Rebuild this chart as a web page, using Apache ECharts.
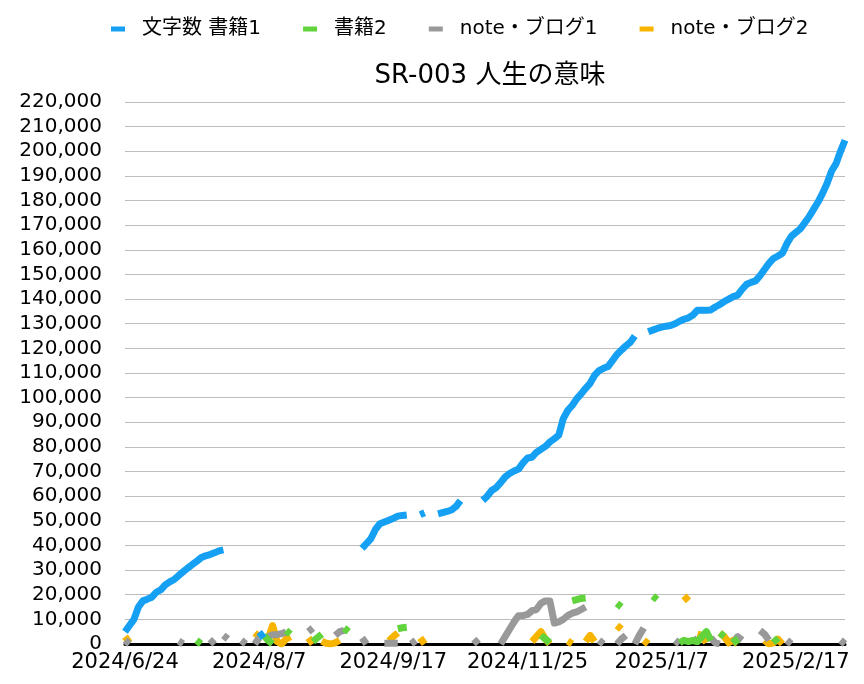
<!DOCTYPE html>
<html>
<head>
<meta charset="utf-8">
<script src="https://cdn.jsdelivr.net/npm/echarts/dist/echarts.min.js"></script>
<style>
html,body{margin:0;padding:0;background:#fff;}
#chart{width:864px;height:684px;}
</style>
</head>
<body>
<div id="chart"></div>
<script>
const _ = null;

const categories = [
'2024/6/24','2024/6/25','2024/6/26','2024/6/27','2024/6/28','2024/6/30','2024/7/1','2024/7/2','2024/7/3','2024/7/5',
'2024/7/6','2024/7/8','2024/7/9','2024/7/10','2024/7/12','2024/7/13','2024/7/15','2024/7/16','2024/7/18','2024/7/19',
'2024/7/21','2024/7/22','2024/7/24','2024/7/25','2024/7/27','2024/7/29','2024/7/30','2024/8/1','2024/8/3','2024/8/5',
'2024/8/7','2024/8/8','2024/8/9','2024/8/11','2024/8/12','2024/8/13','2024/8/15','2024/8/16','2024/8/18','2024/8/19',
'2024/8/20','2024/8/22','2024/8/23','2024/8/25','2024/8/26','2024/8/27','2024/8/29','2024/8/30','2024/9/1','2024/9/2',
'2024/9/3','2024/9/5','2024/9/6','2024/9/8','2024/9/9','2024/9/10','2024/9/12','2024/9/13','2024/9/14','2024/9/16',
'2024/9/17','2024/9/19','2024/9/22','2024/9/24','2024/9/26','2024/9/29','2024/10/1','2024/10/3','2024/10/6','2024/10/8',
'2024/10/10','2024/10/13','2024/10/15','2024/10/17','2024/10/20','2024/10/22','2024/10/24','2024/10/27','2024/10/29','2024/10/31',
'2024/11/3','2024/11/5','2024/11/7','2024/11/10','2024/11/12','2024/11/14','2024/11/17','2024/11/19','2024/11/21','2024/11/23',
'2024/11/25','2024/11/26','2024/11/28','2024/11/29','2024/12/1','2024/12/2','2024/12/4','2024/12/5','2024/12/7','2024/12/8',
'2024/12/10','2024/12/11','2024/12/13','2024/12/14','2024/12/16','2024/12/17','2024/12/19','2024/12/20','2024/12/22','2024/12/23',
'2024/12/25','2024/12/26','2024/12/28','2024/12/29','2024/12/31','2025/1/1','2025/1/2','2025/1/3','2025/1/4','2025/1/6',
'2025/1/7','2025/1/8','2025/1/9','2025/1/11','2025/1/12','2025/1/13','2025/1/15','2025/1/16','2025/1/18','2025/1/19',
'2025/1/20','2025/1/22','2025/1/23','2025/1/25','2025/1/26','2025/1/27','2025/1/29','2025/1/30','2025/2/1','2025/2/2',
'2025/2/3','2025/2/5','2025/2/6','2025/2/8','2025/2/9','2025/2/10','2025/2/12','2025/2/13','2025/2/14','2025/2/16',
'2025/2/17','2025/2/18','2025/2/19','2025/2/20','2025/2/21','2025/2/22','2025/2/23','2025/2/24','2025/2/25','2025/2/26',
'2025/2/27','2025/2/28'
];

const seriesNames = ['文字数 書籍1', '書籍2', 'note・ブログ1', 'note・ブログ2'];

const book1 = [
/*0*/ 5000,7500,10000,15000,17500,18200,19000,21000,22000,24000,
/*10*/ 25200,26200,27800,29300,30800,32200,33500,35000,35800,36300,
/*20*/ 37000,37800,38200,_,_,_,_,_,_,_,
/*30*/ 4800,2500,_,_,_,_,_,_,_,_,
/*40*/ _,_,_,_,_,_,_,_,_,_,
/*50*/ _,_,_,38800,40800,42800,46500,48800,49500,50200,
/*60*/ 51000,51900,52200,52400,_,_,52500,53300,_,_,
/*70*/ 52800,53300,53800,54400,55800,58200,_,_,_,_,
/*80*/ 58300,60000,62300,63500,65500,67800,69200,70200,71000,73500,
/*90*/ 75500,75800,77800,79000,80200,82000,83300,84800,91500,94800,
/*100*/ 96800,99500,101500,103800,105800,109000,111000,111900,112600,115000,
/*110*/ 117500,119300,121000,122500,125000,_,_,126700,127400,128100,
/*120*/ 128600,129000,129300,130000,131000,131800,132400,133500,135500,135500,
/*130*/ 135500,135600,136800,137800,139000,140000,141000,141600,144000,146000,
/*140*/ 146800,147400,149500,152000,154500,156500,157500,158600,162500,165500,
/*150*/ 167000,168500,171000,173500,176500,179500,183000,187000,192000,195000,
/*160*/ 200000,204500
];

const book2 = [
/*0*/ _,_,_,_,_,_,_,_,_,_,
/*10*/ _,_,_,_,_,_,1500,0,_,_,
/*20*/ _,_,_,_,_,_,_,_,_,_,
/*30*/ _,3500,1500,0,_,_,5500,4000,_,_,
/*40*/ _,_,1000,2500,4000,_,_,_,_,6500,
/*50*/ 5000,_,_,_,_,_,_,_,_,_,
/*60*/ _,6200,6600,6800,_,_,_,_,_,_,
/*70*/ _,_,_,_,_,_,_,_,_,_,
/*80*/ _,_,_,_,_,_,_,_,_,_,
/*90*/ _,_,_,3500,2000,500,_,_,_,_,
/*100*/ 17500,18000,18500,18700,_,_,_,_,_,_,
/*110*/ 16500,15000,_,_,_,_,_,_,19500,18000,
/*120*/ _,_,_,_,500,1500,1000,1500,1000,3000,
/*130*/ 5000,1500,_,4500,3000,_,2500,0,_,_,
/*140*/ _,_,_,_,_,2500,500,_,_,_,
/*150*/ _,_,_,_,_,_,_,_,_,_,
/*160*/ _,_
];

const note1 = [
/*0*/ 1500,0,_,_,_,_,_,_,_,_,
/*10*/ _,_,1200,0,_,_,_,_,_,0,
/*20*/ 1800,_,3500,2000,_,_,1500,0,_,0,
/*30*/ 2500,_,3000,3800,3800,4200,4800,_,_,_,
/*40*/ _,5000,6500,_,_,_,_,3500,5000,5500,
/*50*/ _,_,_,2500,0,_,_,_,300,300,
/*60*/ 300,300,_,_,0,1500,_,_,_,_,
/*70*/ _,_,_,_,_,_,_,_,2000,0,
/*80*/ _,_,_,_,0,3000,6000,9000,11500,11500,
/*90*/ 12000,13500,14000,16500,17500,17500,8500,9000,10000,11500,
/*100*/ 12500,13000,14000,15000,_,_,1500,0,_,_,
/*110*/ 0,2000,3500,_,0,3500,6500,_,_,_,
/*120*/ _,_,_,1500,0,_,_,2500,500,_,
/*130*/ _,2500,500,0,_,_,500,3000,1500,_,
/*140*/ _,_,5500,4000,1500,_,_,_,1500,0,
/*150*/ _,_,_,_,_,_,_,_,_,_,
/*160*/ 1500,0
];

const note2 = [
/*0*/ 3000,500,_,_,_,_,_,_,_,_,
/*10*/ _,_,_,_,_,_,_,_,_,_,
/*20*/ _,_,_,_,_,_,_,_,_,4500,
/*30*/ 3000,_,2000,7500,1000,0,2000,3000,_,_,
/*40*/ _,2500,0,_,1200,300,0,500,1500,_,
/*50*/ _,_,_,_,_,_,_,_,_,1200,
/*60*/ 3000,4500,_,_,_,_,2500,0,_,_,
/*70*/ _,_,_,_,_,_,_,_,_,_,
/*80*/ _,_,_,_,_,_,_,_,_,_,
/*90*/ _,1000,3000,5000,2000,0,_,_,_,1200,
/*100*/ 0,_,_,1000,3500,1000,_,_,_,_,
/*110*/ 7600,6000,_,_,_,_,1500,0,_,_,
/*120*/ _,_,_,_,_,19500,17500,_,4000,3500,
/*130*/ 500,_,_,4500,3000,500,1500,0,_,_,
/*140*/ _,_,_,1500,0,500,2000,0,_,_,
/*150*/ _,_,_,_,_,_,_,_,_,_,
/*160*/ _,_
];

const colors = ['#15a0f4', '#60d33d', '#999999', '#f7b500'];
const latin = "'DejaVu Sans', 'Noto Sans CJK JP', sans-serif";

function lineSeries(name, data, color, z) {
  return {
    name: name,
    type: 'line',
    data: data,
    z: z,
    showSymbol: false,
    symbol: 'none',
    connectNulls: false,
    animation: false,
    color: color,
    lineStyle: { width: 7, color: color, cap: 'butt', join: 'round' },
    emphasis: { disabled: true }
  };
}

const chart = echarts.init(document.getElementById('chart'), null, { renderer: 'canvas' });
chart.setOption({
  animation: false,
  backgroundColor: '#ffffff',
  color: colors,
  title: {
    text: 'SR-003 人生の意味',
    left: 485,
    textAlign: 'center',
    top: 58,
    textStyle: { fontFamily: latin, fontSize: 26, fontWeight: 'normal', color: '#000' }
  },
  legend: {
    data: seriesNames,
    left: 106,
    top: 14,
    icon: 'rect',
    itemWidth: 14,
    itemHeight: 5,
    itemGap: 42,
    textStyle: { fontFamily: latin, fontSize: 20, color: '#000', padding: [0, 0, 0, 12] }
  },
  grid: { left: 125, right: 19, top: 102, bottom: 40, containLabel: false },
  xAxis: {
    type: 'category',
    data: categories,
    boundaryGap: false,
    axisLine: { show: true, lineStyle: { color: '#000', width: 3 } },
    axisTick: { show: false },
    splitLine: { show: false },
    axisLabel: { interval: 29, color: '#000', fontFamily: latin, fontSize: 21, margin: 8 }
  },
  yAxis: {
    type: 'value',
    min: 0,
    max: 220000,
    interval: 10000,
    axisLine: { show: false },
    axisTick: { show: false },
    splitLine: { show: true, lineStyle: { color: '#bdbdbd', width: 1 } },
    axisLabel: {
      color: '#000', fontFamily: latin, fontSize: 20, margin: 23,
      formatter: function (v) { return String(v).replace(/\B(?=(\d{3})+(?!\d))/g, ','); }
    }
  },
  series: [
    lineSeries(seriesNames[0], book1, colors[0], 5),
    lineSeries(seriesNames[1], book2, colors[1], 4),
    lineSeries(seriesNames[2], note1, colors[2], 3),
    lineSeries(seriesNames[3], note2, colors[3], 2)
  ]
});
</script>
</body>
</html>
